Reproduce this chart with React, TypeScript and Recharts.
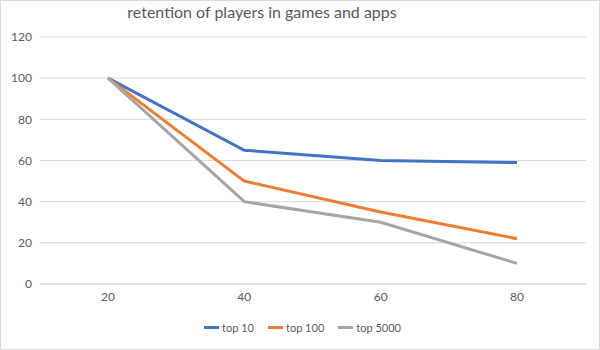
import { CartesianGrid, Legend, Line, LineChart, XAxis, YAxis } from 'recharts';

const categories = ['20', '40', '60', '80'];
const top10 = [100, 65, 60, 59];
const top100 = [100, 50, 35, 22];
const top5000 = [100, 40, 30, 10];
const yTicks = [0, 20, 40, 60, 80, 100, 120];

const data = categories.map((c, i) => ({
  x: c,
  top10: top10[i],
  top100: top100[i],
  top5000: top5000[i],
}));

const font = 'Lato, "Open Sans", sans-serif';
const textColor = '#595959';

function LegendContent({ payload }: any) {
  return (
    <div style={{ display: 'flex', justifyContent: 'center', paddingLeft: 32, height: 16 }}>
      {(payload || []).map((p: any) => (
        <div
          key={p.value}
          style={{ display: 'flex', alignItems: 'center', marginRight: 14, fontSize: 11, color: textColor }}
        >
          <span style={{ width: 15, height: 3, background: p.color, marginRight: 3, display: 'inline-block' }} />
          <span>{p.value}</span>
        </div>
      ))}
    </div>
  );
}

export default function App() {
  return (
    <div
      style={{
        position: 'relative',
        width: 600,
        height: 350,
        boxSizing: 'border-box',
        border: '1px solid #d9d9d9',
        background: '#fff',
        fontFamily: font,
      }}
    >
      <style>{'body{margin:0}'}</style>
      <div
        style={{
          position: 'absolute',
          left: 0,
          width: 522,
          top: 1,
          textAlign: 'center',
          fontSize: 16,
          color: textColor,
        }}
      >
        retention of players in games and apps
      </div>
      <LineChart
        width={598}
        height={348}
        data={data}
        margin={{ top: 36, right: 13, left: 0, bottom: 21 }}
        style={{ position: 'absolute', left: 0, top: 0 }}
      >
        <CartesianGrid vertical={false} stroke="#d9d9d9" strokeWidth={1} />
        <XAxis
          dataKey="x"
          padding={{ left: 68, right: 69 }}
          axisLine={{ stroke: '#d9d9d9' }}
          tickLine={false}
          tick={{ fill: textColor, fontSize: 12, fontFamily: font }}
          height={28}
        />
        <YAxis
          domain={[0, 120]}
          ticks={yTicks}
          axisLine={false}
          tickLine={false}
          width={39}
          tick={{ fill: textColor, fontSize: 12, fontFamily: font }}
        />
        <Legend
          verticalAlign="bottom"
          content={<LegendContent />}
          wrapperStyle={{ bottom: 14, fontFamily: font }}
        />
        <Line
          name="top 10"
          dataKey="top10"
          stroke="#4472C4"
          strokeWidth={3}
          dot={false}
          isAnimationActive={false}
        />
        <Line
          name="top 100"
          dataKey="top100"
          stroke="#ED7D31"
          strokeWidth={3}
          dot={false}
          isAnimationActive={false}
        />
        <Line
          name="top 5000"
          dataKey="top5000"
          stroke="#A5A5A5"
          strokeWidth={3}
          dot={false}
          isAnimationActive={false}
        />
      </LineChart>
    </div>
  );
}
